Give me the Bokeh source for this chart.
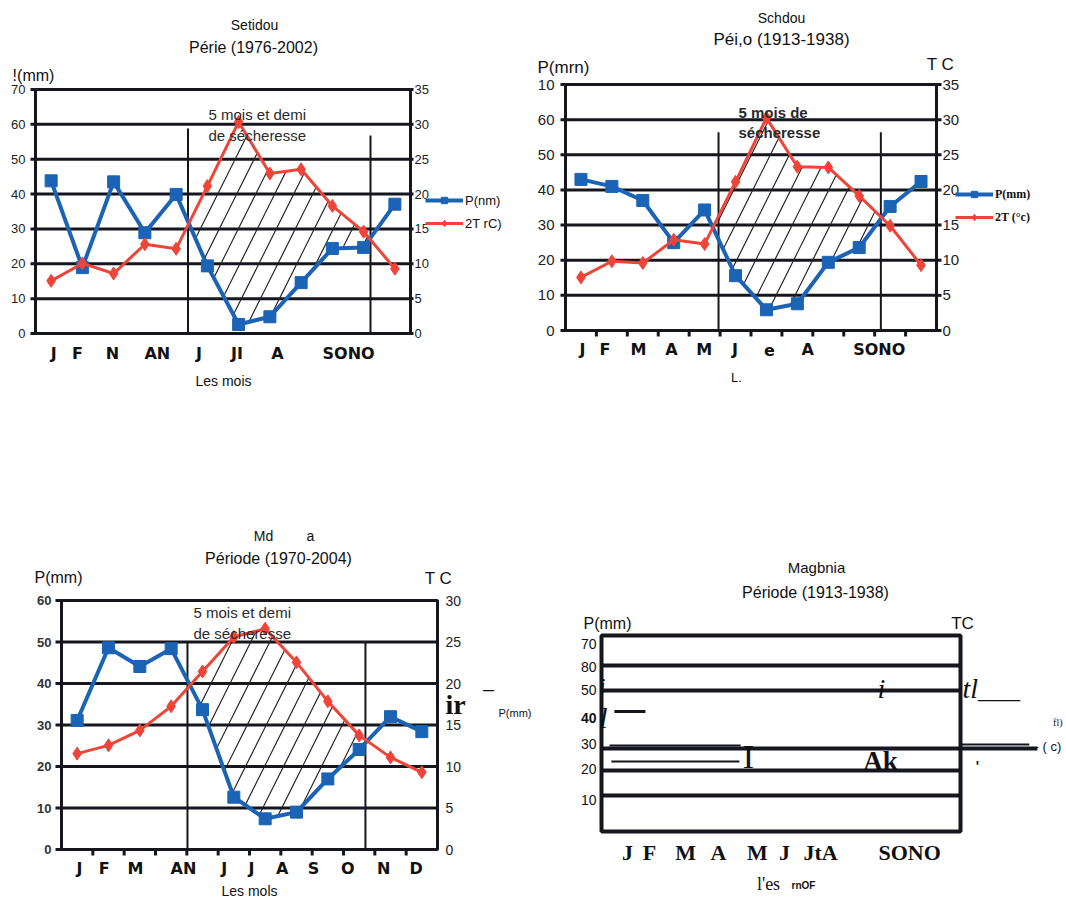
import numpy as np
from bokeh.plotting import figure
from bokeh.models import Range1d, Label, Legend, LegendItem
from bokeh.layouts import row, column
from bokeh.embed import file_html
from bokeh.resources import INLINE
from bokeh.core.properties import value

# ---------------- data ----------------
month_x = [i + 0.5 for i in range(12)]
month_edges = list(range(1, 12))

# Setidou, 1976-2002  (P in mm, T in degC)
setidou_P = [43.8, 18.9, 43.5, 28.9, 39.9, 19.4, 2.6, 4.8, 14.6, 24.4, 24.7, 37.1]
setidou_T = [7.55, 10.05, 8.6, 12.8, 12.15, 21.15, 30.35, 22.95, 23.55, 18.3, 14.6, 9.3]
setidou_dry = [4.88, 10.72]
setidou_dry_top = [58.8, 56.8]
setidou_months = ["J", "F", "N", "AN", "J", "JI", "A", "SONO"]
setidou_month_at = [0.58, 1.34, 2.46, 3.90, 5.23, 6.45, 7.74, 10.02]
setidou_plabels = ["0", "10", "20", "30", "40", "50", "60", "70"]

# Schdou, 1913-1938
schdou_P = [43.0, 41.0, 37.0, 25.0, 34.3, 15.6, 5.9, 7.6, 19.4, 23.6, 35.3, 42.4]
schdou_T = [7.55, 9.85, 9.6, 12.9, 12.3, 21.15, 30.25, 23.3, 23.2, 19.15, 14.9, 9.3]
schdou_dry = [4.95, 10.2]
schdou_dry_top = [56.4, 56.4]
schdou_months = ["J", "F", "M", "A", "M", "J", "e", "A", "SONO"]
schdou_month_at = [0.55, 1.28, 2.36, 3.43, 4.49, 5.48, 6.6, 7.83, 10.15]
schdou_plabels = ["0", "10", "20", "30", "40", "50", "60", "10"]

# Md a, 1970-2004
mda_P = [31.1, 48.6, 44.1, 48.4, 33.7, 12.6, 7.4, 9.0, 17.0, 24.1, 32.0, 28.4]
mda_T = [11.55, 12.55, 14.35, 17.25, 21.45, 25.6, 26.6, 22.55, 17.85, 13.75, 11.1, 9.3]
mda_dry = [4.02, 9.70]
mda_dry_top = [50, 50]
mda_months = ["J", "F", "M", "AN", "J", "J", "A", "S", "O", "N", "D"]
mda_month_at = [0.57, 1.36, 2.36, 3.89, 5.19, 6.06, 7.04, 8.04, 9.14, 10.28, 11.32]
mda_plabels = ["0", "10", "20", "30", "40", "50", "60"]

# Magbnia, 1913-1938 (scan without curves)
mag_levels = [12.9, 21.8, 29.6, 50.4, 59.3]
mag_ylabels = ["70", "80", "50", "40", "30", "20", "10"]
mag_ylabel_at = [67.1, 58.9, 50.7, 40.7, 31.4, 22.5, 11.4]
mag_months = ["J", "F", "M", "A", "M", "J", "JtA", "SONO"]
mag_month_at = [0.87, 1.6, 2.81, 3.91, 5.21, 6.12, 7.32, 10.3]
mag_stroke_x0 = [0.27, 0.33, 0.43, 12.0, 12.0]
mag_stroke_x1 = [4.65, 4.61, 1.47, 14.57, 14.3]
mag_stroke_y = [30.7, 25.0, 42.9, 29.6, 31.1]
mag_stroke_w = [2, 2, 3, 4, 2]

INK = "#16161e"
BLUE = "#1b63b5"
RED = "#ef4438"
SANS = "Liberation Sans"
SERIF = "Liberation Serif"
WIDE = "DejaVu Sans"


class Panel:
    """A figure whose frame fills the canvas; data (0..12, 0..pmax) is
    mapped onto the chart box measured in the picture."""

    def __init__(self, origin, size, box, pmax):
        ox, oy = origin
        W, H = size
        L, T, R, B = box
        self.box, self.pmax = box, pmax
        self.ppx = (R - L) / 12.0
        self.ppy = (B - T) / float(pmax)
        xr = Range1d((ox - L) / self.ppx, (ox + W - L) / self.ppx)
        yr = Range1d((B - oy - H) / self.ppy, (B - oy) / self.ppy)
        p = figure(width=W, height=H, output_backend="svg",
                   toolbar_location=None, x_axis_location=None,
                   y_axis_location=None, x_range=xr, y_range=yr,
                   min_border_left=0, min_border_right=0,
                   min_border_top=0, min_border_bottom=0)
        p.extra_y_ranges = {"t": Range1d(yr.start / 2.0, yr.end / 2.0)}
        p.grid.visible = False
        p.outline_line_color = None
        p.background_fill_color = "white"
        p.border_fill_color = "white"
        self.p = p
        self.origin = origin
        self.size = size

    def dx(self, gx):
        return (gx - self.box[0]) / self.ppx

    def dy(self, gy):
        return (self.box[3] - gy) / self.ppy

    def label(self, gx, gy, text, size, font=SANS, style="normal",
              align="center", baseline="middle", color="#111"):
        self.p.add_layout(Label(x=self.dx(gx), y=self.dy(gy), text=text,
                                text_font=font, text_font_size=f"{size}px",
                                text_font_style=style, text_align=align,
                                text_baseline=baseline, text_color=color))

    def texts(self, xs, ys, labels, size, font=SANS, style="normal",
              align="center", color="#111", y_range_name="default"):
        self.p.text(x=xs, y=ys, text=labels, text_font=value(font),
                    text_font_size=value(f"{size}px"), text_font_style=style,
                    text_align=align, text_baseline="middle",
                    text_color=color, y_range_name=y_range_name)


def ombro(origin, size, box, pmax, P, T, dry, dry_top, mpos, mlbl, plabels, o):
    pn = Panel(origin, size, box, pmax)
    p = pn.p
    tmax = pmax // 2
    p_vals = list(range(0, pmax + 1, 10))
    t_vals = list(range(0, tmax + 1, 5))

    # chart box and horizontal grid lines
    p.quad(left=[0], right=[12], bottom=[0], top=[pmax], fill_color="white",
           line_color=INK, line_width=3)
    grid = list(range(10, pmax, 10))
    p.segment(x0=0, x1=12, y0=grid, y1=grid, line_color=INK, line_width=3)

    # left (precipitation) scale
    if o["ltick"]:
        p.segment(x0=-o["ltick"] / pn.ppx, x1=0, y0=p_vals, y1=p_vals,
                  line_color=INK, line_width=3)
    pn.texts([pn.dx(o["lx"])] * len(p_vals), p_vals, plabels, o["lsize"],
             style=o.get("lstyle", "normal"), align="right",
             color=o.get("lcolor", "#222"))
    # right (temperature) scale
    if o["rtick"]:
        p.segment(x0=12, x1=12 + o["rtick"] / pn.ppx, y0=t_vals, y1=t_vals,
                  line_color=INK, line_width=3, y_range_name="t")
    pn.texts([pn.dx(o["rx"])] * len(t_vals), t_vals, [str(v) for v in t_vals],
             o["rsize"], align="left", color="#222", y_range_name="t")
    # month axis
    if o["btick"]:
        p.segment(x0=month_edges, x1=month_edges, y0=0,
                  y1=-o["btick"] / pn.ppy, line_color=INK, line_width=3)
    pn.texts(mpos, [pn.dy(o["by"])] * len(mpos), mlbl, o["bsize"], font=WIDE,
             style="bold")

    # hatched dry period (between the P curve and the 2T curve)
    xs = np.linspace(dry[0], dry[1], 300)
    pi = np.interp(xs, month_x, P)
    ti = np.interp(xs, month_x, 2 * np.asarray(T))
    p.varea(x=xs, y1=pi, y2=np.maximum(pi, ti), fill_alpha=0,
            hatch_pattern="/", hatch_scale=o.get("hscale", 38),
            hatch_color="#222", hatch_weight=1.2, hatch_alpha=1)
    p.segment(x0=dry, y0=[0, 0], x1=dry, y1=dry_top, line_color=INK,
              line_width=2)

    rpl = p.line(month_x, P, line_color=BLUE, line_width=4)
    rps = p.scatter(month_x, P, marker="square", size=12, fill_color=BLUE,
                    line_color=BLUE)
    rtl = p.line(month_x, T, line_color=RED, line_width=3, y_range_name="t")
    rts = p.scatter(month_x, T, marker="diamond", size=13, fill_color=RED,
                    line_color=RED, y_range_name="t")
    if o.get("legend"):
        ox, oy = origin
        gx, gtop = o["legend_at"]
        lg = Legend(items=[LegendItem(label=o["legend"][0], renderers=[rpl, rps]),
                           LegendItem(label=o["legend"][1], renderers=[rtl, rts])],
                    location=(gx - ox, oy + size[1] - (gtop + 39)),
                    orientation="vertical", padding=0, margin=0, spacing=7,
                    glyph_width=38, glyph_height=16, label_height=16,
                    label_standoff=2, border_line_color=None,
                    background_fill_alpha=0,
                    label_text_font=o["legend_font"],
                    label_text_font_size=o["legend_size"],
                    label_text_font_style=o.get("legend_style", "normal"),
                    label_text_color="#111")
        p.add_layout(lg)
    return pn


# ---------------- panel 1 : Setidou ----------------
pn1 = ombro((0, 0), (533, 400), (35, 89, 410, 333), 70, setidou_P, setidou_T,
            setidou_dry, setidou_dry_top, setidou_month_at, setidou_months,
            setidou_plabels,
            dict(ltick=5, lx=25, lsize=13, rtick=3, rx=414, rsize=13,
                 btick=0, by=353, bsize=16,
                 legend=["P(nm)", "2T rC)"], legend_at=(425, 192),
                 legend_font=SANS, legend_size="13px"))
pn1.label(254, 24, "Setidou", 14)
pn1.label(253, 47, "Périe (1976-2002)", 16)
pn1.label(33, 75, "!(mm)", 16)
pn1.label(223, 380, "Les mois", 14)
pn1.label(208, 114, "5 mois et demi", 15, align="left", color="#2a2a2a")
pn1.label(208, 135, "de sécheresse", 15, align="left", color="#2a2a2a")

# ---------------- panel 2 : Schdou ----------------
pn2 = ombro((533, 0), (533, 400), (565, 84, 936, 330), 70, schdou_P, schdou_T,
            schdou_dry, schdou_dry_top, schdou_month_at, schdou_months,
            schdou_plabels,
            dict(ltick=5, lx=554, lsize=15, rtick=5, rx=942, rsize=15,
                 btick=6, by=349, bsize=16,
                 legend=["P(mm)", "2T (°c)"], legend_at=(955, 186),
                 legend_font=SERIF, legend_size="12px", legend_style="bold"))
pn2.label(781, 17, "Schdou", 14)
pn2.label(781, 39, "Péi,o (1913-1938)", 17)
pn2.label(563, 67, "P(mrn)", 17)
pn2.label(940, 64, "T C", 17)
pn2.label(736, 377, "L.", 13)
pn2.label(738, 112, "5 mois de", 15, style="bold", align="left", color="#2a2a2a")
pn2.label(738, 132, "sécheresse", 15, style="bold", align="left", color="#2a2a2a")

# ---------------- panel 3 : Md a ----------------
pn3 = ombro((0, 400), (538, 500), (61, 600, 437, 849), 60, mda_P, mda_T,
            mda_dry, mda_dry_top, mda_month_at, mda_months, mda_plabels,
            dict(ltick=6, lx=51, lsize=13, lstyle="bold", lcolor="#333",
                 rtick=0, rx=445, rsize=14, btick=6, by=868, bsize=16))
pn3.label(263, 535, "Md", 14)
pn3.label(310, 535, "a", 14)
pn3.label(278, 558, "Période (1970-2004)", 16)
pn3.label(58, 577, "P(mm)", 16)
pn3.label(438, 578, "T C", 17)
pn3.label(193, 612, "5 mois  et demi", 15, align="left", color="#2a2a2a")
pn3.label(193, 633, "de sécheresse", 15, align="left", color="#2a2a2a")
pn3.label(445, 704, "ir", 28, font=SERIF, style="bold", align="left")
pn3.label(488, 688, "–", 20)
pn3.label(498, 712, "P(mm)", 11, align="left")
pn3.label(249, 890, "Les mols", 14)

# ---------------- panel 4 : Magbnia ----------------
pn4 = Panel((538, 400), (528, 500), (601, 635, 960, 831), 70)
p4 = pn4.p
p4.quad(left=[0], right=[12], bottom=[0], top=[70], fill_color=None,
        line_color=INK, line_width=4)
p4.segment(x0=0, x1=12, y0=mag_levels, y1=mag_levels, line_color=INK,
           line_width=4)
p4.segment(x0=mag_stroke_x0, x1=mag_stroke_x1, y0=mag_stroke_y,
           y1=mag_stroke_y, line_color=INK, line_width=mag_stroke_w)
for lbl, yv in zip(mag_ylabels, mag_ylabel_at):
    p4.add_layout(Label(x=pn4.dx(596), y=yv, text=lbl, text_font=SANS,
                        text_font_size="14px",
                        text_font_style="bold" if lbl == "40" else "normal",
                        text_align="right", text_baseline="middle",
                        text_color="#111"))
pn4.texts(mag_month_at, [pn4.dy(852)] * len(mag_month_at), mag_months, 22,
          font=SERIF, style="bold")
pn4.label(816, 567, "Magbnia", 15)
pn4.label(815, 592, "Période (1913-1938)", 16)
pn4.label(607, 623, "P(mm)", 16)
pn4.label(962, 623, "TC", 17)
pn4.label(881, 688, "i", 28, font=SERIF, style="italic", baseline="alphabetic")
pn4.label(962, 688, "tl___", 28, font=SERIF, style="italic", align="left",
          baseline="alphabetic")
pn4.label(602, 685, "i", 20, font=SERIF, style="italic", baseline="alphabetic")
pn4.label(603, 717, "l", 30, font=SERIF, style="italic", baseline="alphabetic")
pn4.label(748, 756, "I", 34, font=SERIF)
pn4.label(880, 760, "Ak", 27, font=SERIF, style="bold")
pn4.label(1034, 746, "- ( c)", 13, align="left")
pn4.label(1062, 722, "fl)", 10, font=SERIF, align="right")
pn4.label(977, 765, "'", 14, style="bold")
pn4.label(768, 883, "l'es", 18, font=SERIF)
pn4.label(803, 885, "rnOF", 10, style="bold")

layout = column(row(pn1.p, pn2.p), row(pn3.p, pn4.p))
open("out.html", "w").write(file_html(layout, INLINE))
